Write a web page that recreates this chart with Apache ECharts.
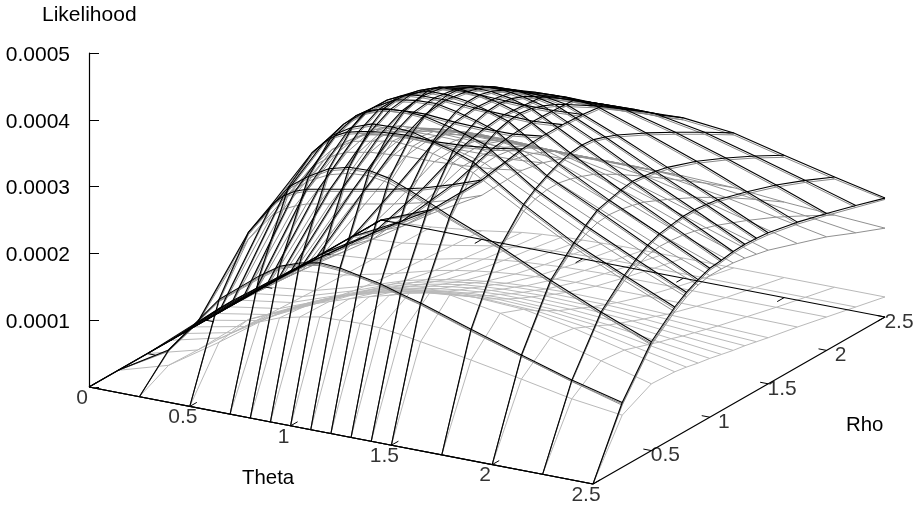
<!DOCTYPE html>
<html>
<head>
<meta charset="utf-8">
<style>html,body{margin:0;padding:0;background:#fff}#c{width:920px;height:505px}</style>
<script src="https://cdn.jsdelivr.net/npm/echarts@6/dist/echarts.min.js"></script>
</head>
<body>
<div id="c"></div>
<script>
// Grid values
const thetaGrid = [0,0.25,0.5,0.7,0.8,0.9,1,1.1,1.2,1.3,1.4,1.5,1.75,2,2.25,2.5];
const rhoGrid   = [0,0.25,0.5,0.7,0.8,0.9,1,1.1,1.2,1.3,1.4,1.5,1.75,2,2.25,2.5];
const zTicks = [0,0.0001,0.0002,0.0003,0.0004,0.0005];
const thetaTicks = [0,0.5,1,1.5,2,2.5];
const rhoTicks = [0.5,1,1.5,2,2.5];

// Likelihood in units of 1e-4; one row per theta, one column per rho (rho = 0 is 0)
const likelihoodBlack = [
[0,0,0,0,0,0,0,0,0,0,0,0,0,0,0,0],
[0,.45,.62,.64,.64,.63,.62,.61,.6,.59,.58,.55,.5,.45,.38,.3],
[0,1.35,2.1,2.32,2.35,2.32,2.25,2.15,2.05,1.95,1.85,1.75,1.5,1.27,1.07,.89],
[0,1.82,2.9,3.21,3.26,3.27,3.22,3.13,3.03,2.92,2.8,2.68,2.33,2.02,1.73,1.47],
[0,2.02,3.12,3.53,3.6,3.62,3.6,3.52,3.42,3.3,3.18,3.05,2.68,2.33,2,1.72],
[0,2.13,3.29,3.71,3.83,3.82,3.82,3.77,3.7,3.58,3.45,3.32,2.95,2.6,2.25,1.95],
[0,2.19,3.37,3.82,3.95,3.98,3.96,3.92,3.85,3.76,3.63,3.5,3.15,2.8,2.47,2.16],
[0,2.17,3.38,3.83,3.97,4.03,4.07,4.03,3.93,3.85,3.74,3.63,3.32,3,2.68,2.35],
[0,2.11,3.32,3.81,3.95,4.04,4.07,4.06,3.98,3.9,3.79,3.66,3.36,3.04,2.7,2.36],
[0,2.05,3.2,3.73,3.88,3.98,4.03,4.03,3.98,3.9,3.8,3.67,3.37,3.03,2.71,2.38],
[0,1.96,3.07,3.65,3.8,3.9,3.95,3.96,3.93,3.86,3.76,3.65,3.36,3.04,2.72,2.38],
[0,1.88,2.93,3.54,3.7,3.8,3.85,3.87,3.84,3.78,3.7,3.6,3.33,3.03,2.72,2.4],
[0,1.63,2.62,3.05,3.18,3.28,3.36,3.42,3.44,3.42,3.36,3.29,3.07,2.83,2.58,2.32],
[0,1.39,2.26,2.62,2.78,2.91,2.96,3.01,3.04,3.02,2.99,2.95,2.79,2.59,2.37,2.13],
[0,1.16,1.93,2.28,2.42,2.53,2.6,2.63,2.66,2.66,2.64,2.61,2.48,2.33,2.15,1.95],
[0,.97,1.63,1.95,2.07,2.16,2.23,2.25,2.28,2.29,2.28,2.26,2.17,2.05,1.92,1.78]
];
const likelihoodNear = [
[0,0,0,0,0,0,0,0,0,0,0,0,0,0,0,0],
[0,.43,.6,.62,.62,.6,.59,.58,.57,.56,.55,.52,.47,.42,.35,.27],
[0,1.33,2.07,2.29,2.32,2.29,2.22,2.12,2.02,1.92,1.82,1.72,1.47,1.24,1.04,.86],
[0,1.8,2.87,3.18,3.23,3.24,3.19,3.1,3,2.89,2.77,2.65,2.3,1.99,1.7,1.44],
[0,2,3.09,3.5,3.57,3.59,3.57,3.49,3.39,3.27,3.15,3.02,2.65,2.3,1.97,1.69],
[0,2.11,3.26,3.68,3.8,3.79,3.79,3.74,3.67,3.55,3.42,3.29,2.92,2.57,2.22,1.92],
[0,2.17,3.34,3.79,3.92,3.95,3.93,3.89,3.82,3.73,3.6,3.47,3.12,2.77,2.44,2.13],
[0,2.15,3.35,3.8,3.94,4,4.04,4,3.9,3.82,3.71,3.6,3.29,2.97,2.65,2.32],
[0,2.09,3.29,3.78,3.92,4.01,4.04,4.03,3.95,3.87,3.76,3.63,3.33,3.01,2.67,2.33],
[0,2.03,3.17,3.7,3.85,3.95,4,4,3.95,3.87,3.77,3.64,3.34,3,2.68,2.35],
[0,1.94,3.04,3.62,3.77,3.87,3.92,3.93,3.9,3.83,3.73,3.62,3.33,3.01,2.69,2.35],
[0,1.86,2.9,3.51,3.67,3.77,3.82,3.84,3.81,3.75,3.67,3.57,3.3,3,2.69,2.37],
[0,1.61,2.59,3.02,3.15,3.25,3.33,3.39,3.41,3.39,3.33,3.26,3.04,2.8,2.55,2.29],
[0,1.37,2.23,2.59,2.75,2.88,2.93,2.98,3.01,2.99,2.96,2.92,2.76,2.56,2.34,2.1],
[0,1.14,1.9,2.25,2.39,2.5,2.57,2.6,2.63,2.63,2.61,2.58,2.45,2.3,2.12,1.92],
[0,.95,1.6,1.92,2.04,2.13,2.2,2.22,2.25,2.26,2.25,2.23,2.14,2.02,1.89,1.76]
];
const likelihoodMid = [
[0,0,0,0,0,0,0,0,0,0,0,0,0,0,0,0],
[0,.44,.6,.62,.61,.6,.58,.56,.54,.52,.5,.48,.42,.36,.3,.24],
[0,1.32,2,2.15,2.15,2.1,2.03,1.93,1.83,1.73,1.63,1.53,1.28,1.05,.84,.66],
[0,1.78,2.8,3,3,2.98,2.92,2.82,2.72,2.6,2.48,2.36,2.03,1.72,1.42,1.15],
[0,1.98,3.05,3.32,3.32,3.3,3.24,3.15,3.03,2.9,2.77,2.63,2.28,1.95,1.62,1.32],
[0,2.09,3.2,3.5,3.5,3.48,3.42,3.33,3.21,3.08,2.95,2.8,2.45,2.11,1.77,1.44],
[0,2.15,3.28,3.56,3.55,3.5,3.42,3.35,3.25,3.13,3,2.86,2.52,2.19,1.86,1.52],
[0,2.13,3.3,3.62,3.6,3.55,3.47,3.4,3.28,3.16,3.02,2.88,2.54,2.2,1.87,1.53],
[0,2.08,3.25,3.6,3.6,3.56,3.5,3.41,3.3,3.17,3.03,2.88,2.54,2.2,1.87,1.53],
[0,2.02,3.14,3.55,3.57,3.55,3.5,3.41,3.3,3.17,3.03,2.87,2.54,2.2,1.87,1.53],
[0,1.93,3.02,3.47,3.5,3.5,3.46,3.39,3.28,3.16,3.02,2.87,2.53,2.2,1.87,1.53],
[0,1.85,2.88,3.38,3.42,3.43,3.4,3.34,3.25,3.13,3,2.85,2.52,2.19,1.86,1.53],
[0,1.6,2.58,2.95,3.03,3.07,3.07,3.03,2.97,2.9,2.8,2.7,2.42,2.12,1.82,1.5],
[0,1.37,2.22,2.55,2.65,2.72,2.74,2.72,2.68,2.63,2.55,2.47,2.25,2,1.72,1.43],
[0,1.14,1.9,2.2,2.31,2.38,2.41,2.4,2.38,2.34,2.29,2.23,2.05,1.85,1.62,1.38],
[0,.93,1.58,1.88,2,2.08,2.12,2.12,2.11,2.08,2.04,2,1.85,1.7,1.51,1.33]
];
const likelihoodLight = [
[0,0,0,0,0,0,0,0,0,0,0,0,0,0,0,0],
[0,.22,.2,.18,.16,.15,.14,.13,.12,.11,.1,.09,.07,.06,.05,.04],
[0,.71,.8,.68,.62,.57,.5,.45,.41,.37,.33,.3,.24,.2,.16,.13],
[0,1.13,1.08,.98,.92,.86,.78,.72,.66,.6,.55,.5,.4,.33,.27,.22],
[0,1.25,1.2,1.1,1.03,.96,.88,.82,.75,.69,.63,.57,.46,.38,.31,.25],
[0,1.32,1.3,1.2,1.12,1.05,.97,.9,.83,.76,.7,.63,.51,.42,.35,.27],
[0,1.38,1.4,1.28,1.2,1.12,1.04,.96,.89,.82,.75,.68,.55,.45,.37,.28],
[0,1.39,1.49,1.36,1.27,1.18,1.09,1.01,.94,.87,.8,.72,.58,.47,.38,.29],
[0,1.4,1.57,1.42,1.32,1.23,1.13,1.05,.98,.9,.83,.75,.6,.49,.39,.3],
[0,1.39,1.66,1.47,1.36,1.26,1.16,1.08,1,.92,.85,.77,.62,.5,.4,.3],
[0,1.35,1.72,1.5,1.38,1.28,1.18,1.1,1.01,.93,.86,.78,.63,.51,.4,.3],
[0,1.3,1.75,1.52,1.39,1.29,1.19,1.1,1.02,.94,.86,.79,.63,.51,.4,.3],
[0,1.17,1.62,1.48,1.36,1.26,1.16,1.08,1,.92,.85,.78,.63,.51,.4,.3],
[0,1.03,1.4,1.34,1.26,1.18,1.09,1.02,.95,.88,.82,.75,.62,.5,.4,.3],
[0,.88,1.2,1.16,1.1,1.04,.98,.93,.87,.82,.77,.72,.61,.5,.4,.3],
[0,.78,1,.98,.95,.91,.88,.84,.8,.77,.73,.69,.6,.5,.4,.3]
];

// Parallel projection of (theta, rho, z) on the hidden x axis and the visible z axis
const XT = 201.6, XR = 116.8, YT = 38.8, YR = 66.8, PX_PER_UNIT = 66.8;
function project(theta, rho, z) {
  return [XT*theta + XR*rho, (z + (YR*rho - YT*theta)/PX_PER_UNIT) * 1e-4];
}
function line(points, color, width, z) {
  return {type:'line', data:points, showSymbol:false, symbol:'none', clip:false, silent:true, animation:false,
          lineStyle:{color:color, width:width}, z:z};
}
const series = [];
function surface(table, color, width, z) {
  thetaGrid.forEach((t,i)=>series.push(line(rhoGrid.map((r,j)=>project(t,r,table[i][j])), color, width, z)));
  rhoGrid.forEach((r,j)=>series.push(line(thetaGrid.map((t,i)=>project(t,r,table[i][j])), color, width, z)));
}
surface(likelihoodLight, '#b9b9b9', 1, 2);
surface(likelihoodMid, '#909090', 1, 3);
surface(likelihoodNear, '#888888', 1, 3);
surface(likelihoodBlack, '#000', 1.1, 4);

const TMAX = 2.5, RMAX = 2.5, TICK_R = 0.06, TICK_T = 0.04;
series.push(line([project(0,0,0),project(TMAX,0,0),project(TMAX,RMAX,0),project(0,RMAX,0),project(0,0,0)], '#000', 1.2, 5));
thetaTicks.forEach(t=>{
  series.push(line([project(t,0,0),project(t,TICK_R,0)], '#000', 1, 5));
  series.push(line([project(t,RMAX,0),project(t,RMAX-TICK_R,0)], '#000', 1, 5));
});
rhoTicks.forEach(r=>{
  series.push(line([project(TMAX,r,0),project(TMAX-TICK_T,r,0)], '#000', 1, 5));
  series.push(line([project(0,r,0),project(TICK_T,r,0)], '#000', 1, 5));
});
const FONT = {fontFamily:'"Liberation Sans", Arial, sans-serif', fontSize:21, color:'#000'};
function labels(points, dx, dy) {
  return {type:'scatter', data:points, symbolSize:1, clip:false, silent:true, animation:false,
    itemStyle:{color:'rgba(0,0,0,0)'}, z:6, labelLayout:{dx:dx, dy:dy, hideOverlap:false},
    label:Object.assign({show:true, position:'inside', textBorderWidth:0, textBorderColor:'transparent', textShadowBlur:0,
      formatter:p=>p.data[2]}, FONT)};
}
series.push(labels(thetaTicks.map(t=>project(t,0,0).concat(String(t))), -7, 11));
series.push(labels(rhoTicks.map(r=>project(TMAX,r,0).concat(String(r))), 14, 5));

const chart = echarts.init(document.getElementById('c'), null, {renderer:'canvas'});
chart.setOption({
  animation:false,
  backgroundColor:'#fff',
  grid:{left:89, top:53, width:800, height:334, containLabel:false},
  xAxis:{type:'value', min:0, max:800, show:false},
  yAxis:{type:'value', min:zTicks[0], max:zTicks[zTicks.length-1], interval:zTicks[1],
    axisLine:{show:true, onZero:false, lineStyle:{color:'#000', width:1.2}},
    axisTick:{show:true, inside:true, length:10, lineStyle:{color:'#000', width:1}},
    splitLine:{show:false},
    axisLabel:{margin:19, formatter:v=>v===0?'':'{a|'+v.toFixed(4)+'}', rich:{a:Object.assign({padding:[4,0,0,0]}, FONT)}}},
  title:[
    {text:'Likelihood', left:42, top:5, padding:0, textStyle:Object.assign({fontWeight:'normal'}, FONT, {fontSize:21})},
    {text:'Theta', left:242, top:468, padding:0, textStyle:Object.assign({fontWeight:'normal'}, FONT, {fontSize:20.4})},
    {text:'Rho', left:846, top:415, padding:0, textStyle:Object.assign({fontWeight:'normal'}, FONT, {fontSize:20.4})}
  ],
  series:series
});
</script>
</body>
</html>
